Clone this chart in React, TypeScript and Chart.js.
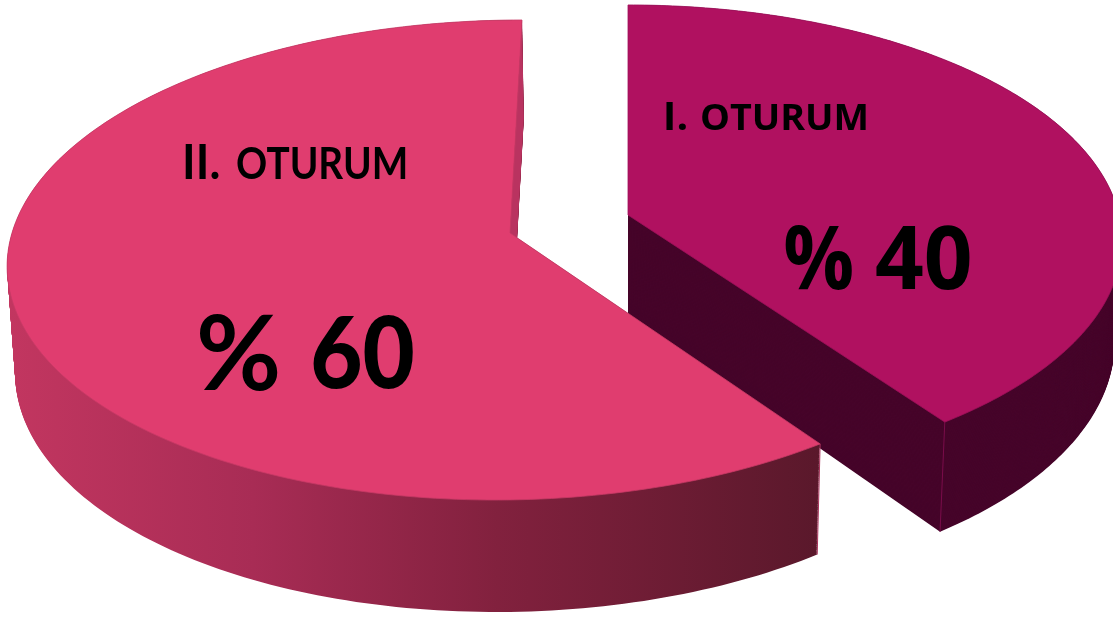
import React, { useEffect, useRef } from "react";
import { Chart, registerables } from "chart.js";

Chart.register(...registerables);

const categories = ["I. OTURUM", "II. OTURUM"];
const sessionShare = [40, 60];
const faceColors = ["#B01160", "#E03D6F"];

type View = {
  cx: number; cy: number; s: number; k: number; g: number; r: number; p: number;
  depth: number; depthTilt: number; shrink: number; lean: number; shift: number;
};
// Tilted-disc view used for each slice (index matches categories)
const views: View[] = [
  { cx: 628, cy: 215, s: 491, k: 0, g: 0, r: -0.11, p: 209.5, depth: 100, depthTilt: 12, shrink: 0.015, lean: 0, shift: 0 },
  { cx: 510, cy: 233, s: 498, k: -13.35, g: 0, r: -0.1125, p: 210.75, depth: 105, depthTilt: 7, shrink: 0.013, lean: -0.5, shift: 1.5 },
];

const project = (v: View, ux: number, uy: number, z: number) => {
  const dx = 1 + v.g * ux + v.r * uy;
  const dy = 1 + v.r * uy;
  const x = ((v.s * ux + v.k * uy) / dx) * (1 - v.shrink * z) + (v.lean * uy + v.shift) * z;
  const y = (v.cy + v.p * uy) / dy + z * (v.depth + v.depthTilt * uy);
  return [v.cx + x, y];
};

const tracePath = (ctx: CanvasRenderingContext2D, v: View, a0: number, a1: number, z: number) => {
  ctx.beginPath();
  const c = project(v, 0, 0, z);
  ctx.moveTo(c[0], c[1]);
  const n = 200;
  for (let i = 0; i <= n; i++) {
    const a = a0 + ((a1 - a0) * i) / n;
    const q = project(v, Math.cos(a), Math.sin(a), z);
    ctx.lineTo(q[0], q[1]);
  }
  ctx.closePath();
};

const sideFill = (ctx: CanvasRenderingContext2D, index: number) => {
  if (index === 0) return "#46052A";
  const g = ctx.createLinearGradient(10, 0, 820, 0);
  g.addColorStop(0, "#C23660");
  g.addColorStop(0.3, "#A82C55");
  g.addColorStop(0.6, "#82213E");
  g.addColorStop(1, "#5A182B");
  return g;
};

const drawSlice = (ctx: CanvasRenderingContext2D, el: any, index: number) => {
  const v = views[index];
  const a0 = el.startAngle;
  const a1 = el.endAngle;
  const fill = sideFill(ctx, index);
  for (let z = 1; z > 0; z -= 1 / 130) {
    ctx.fillStyle = fill;
    tracePath(ctx, v, a0, a1, z);
    ctx.fill();
  }
  if (index === 1) {
    const q0 = project(v, 0, 0, 0);
    const q1 = project(v, Math.cos(a1), Math.sin(a1), 0);
    const q2 = project(v, Math.cos(a1), Math.sin(a1), 1);
    const q3 = project(v, 0, 0, 1);
    ctx.fillStyle = "#B93360";
    ctx.beginPath();
    ctx.moveTo(q0[0], q0[1]);
    ctx.lineTo(q1[0], q1[1]);
    ctx.lineTo(q2[0], q2[1]);
    ctx.lineTo(q3[0], q3[1]);
    ctx.closePath();
    ctx.fill();
  }
  // corner edge of the wall
  const e0 = project(v, Math.cos(index === 0 ? a1 : a0), Math.sin(index === 0 ? a1 : a0), 0);
  const e1 = project(v, Math.cos(index === 0 ? a1 : a0), Math.sin(index === 0 ? a1 : a0), 1);
  ctx.strokeStyle = index === 0 ? "#7A0C4A" : "#A8325A";
  ctx.lineWidth = 1;
  ctx.beginPath();
  ctx.moveTo(e0[0], e0[1]);
  ctx.lineTo(e1[0], e1[1]);
  ctx.stroke();
  // top face
  tracePath(ctx, v, a0, a1, 0);
  ctx.fillStyle = el.options.backgroundColor;
  ctx.fill();
  ctx.strokeStyle = index === 0 ? "#A0105A" : "#C83A66";
  ctx.lineWidth = 0.8;
  ctx.stroke();
};

const fitText = (
  ctx: CanvasRenderingContext2D, text: string, font: string,
  left: number, right: number, baseline: number,
) => {
  ctx.save();
  ctx.font = font;
  ctx.textAlign = "left";
  ctx.textBaseline = "alphabetic";
  ctx.fillStyle = "#000000";
  const m = ctx.measureText(text);
  const inkLeft = -m.actualBoundingBoxLeft;
  const inkWidth = m.actualBoundingBoxRight + m.actualBoundingBoxLeft;
  const sx = (right - left) / inkWidth;
  ctx.translate(left, baseline);
  ctx.scale(sx, 1);
  ctx.fillText(text, -inkLeft, 0);
  ctx.restore();
};

const pie3d = {
  id: "pie3d",
  beforeDatasetDraw(chart: any) {
    const ctx = chart.ctx;
    const els = chart.getDatasetMeta(0).data;
    ctx.save();
    els.forEach((el: any, i: number) => drawSlice(ctx, el, i));
    ctx.restore();
    return false;
  },
  afterDatasetsDraw(chart: any) {
    const ctx = chart.ctx;
    const [first, second] = categories.map((c) => c.split(" "));
    const [p1, p2] = sessionShare.map((v) => String(v));
    fitText(ctx, first[0], '700 39px "Open Sans"', 666, 686, 130);
    fitText(ctx, first[1], '700 36px "Open Sans"', 702, 866, 130);
    fitText(ctx, "%", '700 87px "Open Sans"', 785, 852, 289);
    fitText(ctx, p1, '700 87px "Open Sans"', 876, 970, 289);
    fitText(ctx, second[0], '700 48px Lato', 185, 219, 179);
    fitText(ctx, second[1], '700 44px Lato', 237, 406, 179);
    fitText(ctx, "%", '700 104px Lato', 200, 278, 390);
    fitText(ctx, p2, '900 100px Lato', 313, 413, 388);
  },
};

export default function App() {
  const ref = useRef<HTMLCanvasElement>(null);
  useEffect(() => {
    document.body.style.margin = "0";
    document.body.style.background = "#ffffff";
    const chart = new Chart(ref.current!, {
      type: "pie",
      data: {
        labels: categories,
        datasets: [{ data: sessionShare, backgroundColor: faceColors, borderWidth: 0 }],
      },
      options: {
        responsive: false,
        animation: false,
        rotation: 0,
        plugins: { legend: { display: false }, tooltip: { enabled: false } },
      },
      plugins: [pie3d],
    } as any);
    return () => chart.destroy();
  }, []);
  return <canvas ref={ref} width={1113} height={618} style={{ display: "block" }} />;
}
